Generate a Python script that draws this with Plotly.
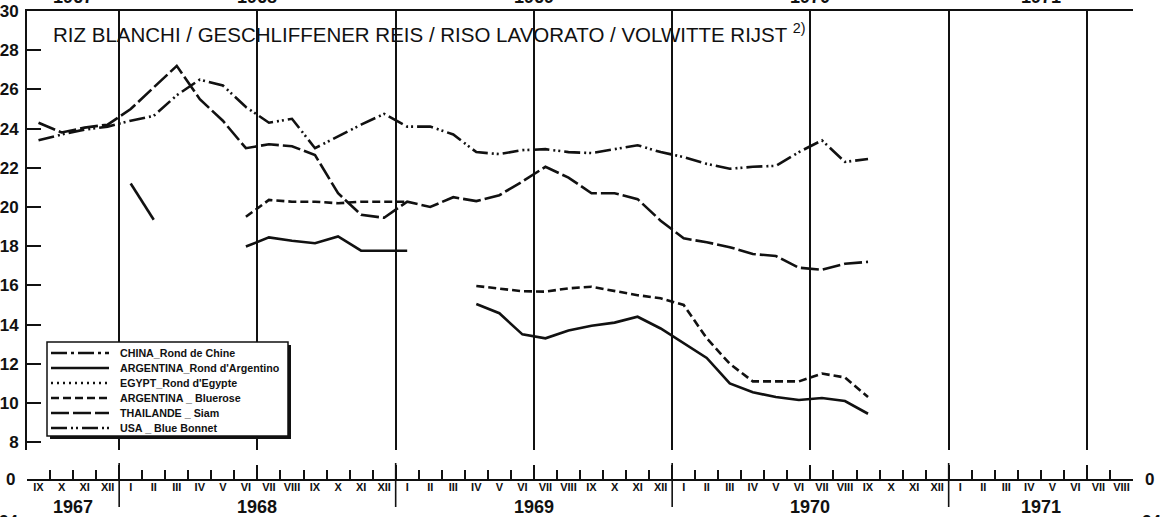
import plotly.graph_objects as go

# Month axis: September 1967 (index 0) to August 1971 (index 47)
months = ["IX", "X", "XI", "XII",
          "I", "II", "III", "IV", "V", "VI", "VII", "VIII", "IX", "X", "XI", "XII",
          "I", "II", "III", "IV", "V", "VI", "VII", "VIII", "IX", "X", "XI", "XII",
          "I", "II", "III", "IV", "V", "VI", "VII", "VIII", "IX", "X", "XI", "XII",
          "I", "II", "III", "IV", "V", "VI", "VII", "VIII"]
years = ["1967", "1968", "1969", "1970", "1971"]
year_centres = [2, 10, 22, 34, 44]
year_breaks = [4, 16, 28, 40]
half_year_lines = [4, 10, 16, 22, 28, 34, 40, 46]

# Monthly prices, September 1967 .. September 1970 (None = no quotation)
china_rond = [None] * 37
egypt_rond = [None] * 37
argentina_rond = [None, None, None, None, 21.2, 19.35, None, None, None,
                  17.98, 18.45, 18.28, 18.15, 18.5, 17.77, 17.77, 17.77,
                  None, None, 15.05, 14.58, 13.5, 13.3, 13.7, 13.94, 14.1, 14.4,
                  13.8, 13.05, 12.3, 11.0, 10.55, 10.3, 10.15, 10.25, 10.1, 9.45]
argentina_bluerose = [None, None, None, None, None, None, None, None, None,
                      19.5, 20.36, 20.27, 20.27, 20.19, 20.27, 20.27, 20.27,
                      None, None, 15.97, 15.85, 15.7, 15.68, 15.85, 15.93, 15.73, 15.5,
                      15.34, 15.0, 13.3, 12.0, 11.1, 11.1, 11.1, 11.5, 11.3, 10.3]
thailande_siam = [24.3, 23.8, 24.05, 24.2, 25.0, 26.1, 27.2, 25.5, 24.4, 23.0,
                  23.2, 23.1, 22.65, 20.7, 19.6, 19.45, 20.27, 20.0, 20.5, 20.3,
                  20.6, 21.3, 22.05, 21.5, 20.7, 20.7, 20.4, 19.3, 18.4, 18.2,
                  17.95, 17.6, 17.5, 16.9, 16.8, 17.1, 17.2]
usa_blue_bonnet = [23.4, 23.7, 23.95, 24.1, 24.4, 24.65, 25.7, 26.5, 26.2, 25.1,
                   24.3, 24.5, 23.0, 23.6, 24.2, 24.75, 24.1, 24.1, 23.7, 22.8,
                   22.7, 22.9, 22.95, 22.8, 22.75, 22.95, 23.15, 22.8, 22.55, 22.2,
                   21.95, 22.05, 22.1, 22.8, 23.4, 22.3, 22.45]

series = [
    ("CHINA_Rond de Chine", china_rond, "16px,4px,3px,4px"),
    ("ARGENTINA_Rond d'Argentino", argentina_rond, "solid"),
    ("EGYPT_Rond d'Egypte", egypt_rond, "2px,4px"),
    ("ARGENTINA _ Bluerose", argentina_bluerose, "8px,4px"),
    ("THAILANDE _ Siam", thailande_siam, "18px,4px"),
    ("USA _ Blue Bonnet", usa_blue_bonnet, "16px,4px,2px,3px,2px,4px"),
]

W, H = 1166, 517
L, R, T, B = 27, 33, 11, 38
PW, PH = W - L - R, H - T - B


def px_x(p):
    return (p - L) / PW


def px_y(p):
    return (H - B - p) / PH


ink = "#111111"
fam = "Liberation Sans"
bold = lambda s: dict(family=fam, size=s, color=ink, weight="bold")

fig = go.Figure()
x_mid = [i + 0.5 for i in range(37)]
for name, vals, dash in series:
    fig.add_trace(go.Scatter(
        x=x_mid, y=vals, name=name, mode="lines",
        line=dict(color=ink, width=2.6, dash=dash),
        xaxis="x", yaxis="y", showlegend=False,
    ))
# empty traces so the month scale below the break gets its own axes
for xa in ("x2", "x3"):
    fig.add_trace(go.Scatter(x=[None], y=[None], xaxis=xa, yaxis="y4",
                             showlegend=False, hoverinfo="skip"))

y_vals = list(range(8, 31, 2))
y_main_bottom = px_y(450)

fig.update_layout(
    width=W, height=H,
    margin=dict(l=L, r=R, t=T, b=B, pad=0, autoexpand=False),
    paper_bgcolor="white", plot_bgcolor="white",
    showlegend=False,
    xaxis=dict(
        range=[0, 48], domain=[0, 1], anchor="y", side="top", automargin=False,
        showline=True, linecolor=ink, linewidth=2,
        tickvals=half_year_lines, showticklabels=False, ticks="",
        showgrid=True, gridcolor=ink, gridwidth=1.6, zeroline=False,
    ),
    xaxis2=dict(
        range=[0, 48], domain=[0, 1], anchor="y4", side="bottom", automargin=False,
        showline=True, linecolor=ink, linewidth=2,
        tickvals=[0] + half_year_lines + [48], ticks="inside", ticklen=14,
        tickwidth=1.5, tickcolor=ink, showticklabels=False, showgrid=False,
        zeroline=False,
        minor=dict(tickmode="linear", tick0=0, dtick=1, ticks="inside",
                   ticklen=9, tickwidth=1.5, tickcolor=ink, showgrid=False),
    ),
    xaxis3=dict(
        range=[0, 48], overlaying="x2", anchor="y4", side="bottom", automargin=False,
        showline=False, tickvals=[i + 0.5 for i in range(48)], ticktext=months,
        ticks="", showgrid=False, zeroline=False, tickfont=bold(11),
    ),
    yaxis=dict(
        range=[7.6, 30], domain=[y_main_bottom, 1], anchor="x", automargin=False,
        showline=True, linecolor=ink, linewidth=2,
        tickvals=y_vals, ticks="inside", ticklen=14, tickwidth=1.5,
        tickcolor=ink, showgrid=False, zeroline=False, tickfont=bold(17),
        ticklabelstandoff=3,
    ),
    yaxis2=dict(
        range=[7.6, 30], overlaying="y", side="right", anchor="x", automargin=False,
        showline=True, linecolor=ink, linewidth=2,
        tickvals=y_vals, ticks="inside", ticklen=14, tickwidth=1.5,
        tickcolor=ink, showgrid=False, zeroline=False, tickfont=bold(17),
        ticklabelstandoff=3,
    ),
    yaxis3=dict(
        range=[7.6, 30], overlaying="y", anchor="x", automargin=False,
        tickvals=[10, 14, 18, 22, 26], showticklabels=False, ticks="",
        showline=False, showgrid=True, gridcolor=ink, gridwidth=1.5,
        zeroline=False,
    ),
    yaxis4=dict(
        range=[0, 1], domain=[0, 0.02], anchor="x2", visible=False,
        automargin=False,
    ),
)

annotations = [
    dict(text="RIZ BLANCHI / GESCHLIFFENER REIS / RISO LAVORATO / VOLWITTE RIJST <sup>2)</sup>",
         xref="paper", yref="paper", x=px_x(51), y=px_y(33),
         xanchor="left", yanchor="middle", showarrow=False,
         font=dict(family=fam, size=20.5, color=ink)),
    dict(text="0", xref="paper", yref="paper", x=px_x(10), y=px_y(479),
         xanchor="center", yanchor="middle", showarrow=False, font=bold(17)),
    dict(text="0", xref="paper", yref="paper", x=px_x(1149), y=px_y(479),
         xanchor="center", yanchor="middle", showarrow=False, font=bold(17)),
]
for yr, xc in zip(years, year_centres):
    annotations.append(dict(text=yr, xref="x", yref="paper", x=xc, y=px_y(507),
                            xanchor="center", yanchor="middle", showarrow=False,
                            font=bold(18)))
    annotations.append(dict(text=yr, xref="x", yref="paper", x=xc, y=px_y(-3),
                            xanchor="center", yanchor="middle", showarrow=False,
                            font=bold(18)))
for xp in (8, 1151):
    annotations.append(dict(text="24", xref="paper", yref="paper", x=px_x(xp), y=px_y(521),
                            xanchor="center", yanchor="middle", showarrow=False,
                            font=bold(17)))

shapes = []
for xb in year_breaks:
    shapes.append(dict(type="line", xref="x", yref="paper", x0=xb, x1=xb,
                       y0=px_y(507), y1=px_y(463), line=dict(color=ink, width=1.6)))

# key box with drop shadow, one sample line and label per series
box_l, box_t, box_r, box_b = 47, 342, 288, 436
shapes.append(dict(type="rect", xref="paper", yref="paper", layer="above",
                   x0=px_x(box_l + 3), x1=px_x(box_r + 3),
                   y0=px_y(box_b + 3), y1=px_y(box_t + 3),
                   fillcolor=ink, line=dict(width=0)))
shapes.append(dict(type="rect", xref="paper", yref="paper", layer="above",
                   x0=px_x(box_l), x1=px_x(box_r), y0=px_y(box_b), y1=px_y(box_t),
                   fillcolor="white", line=dict(color=ink, width=1.5)))
for k, (name, vals, dash) in enumerate(series):
    yy = px_y(353 + 15 * k)
    shapes.append(dict(type="line", xref="paper", yref="paper", layer="above",
                       x0=px_x(51), x1=px_x(109), y0=yy, y1=yy,
                       line=dict(color=ink, width=2.6, dash=dash)))
    annotations.append(dict(text=name, xref="paper", yref="paper",
                            x=px_x(118), y=yy, xanchor="left", yanchor="middle",
                            showarrow=False, font=bold(10.7)))

fig.update_layout(annotations=annotations, shapes=shapes)

fig.write_html("out.html")
